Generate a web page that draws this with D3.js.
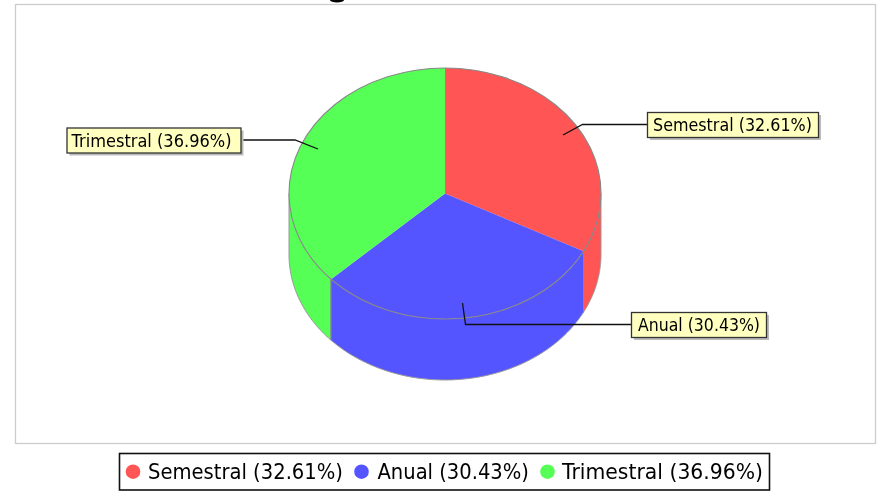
<!DOCTYPE html>
<html><head><meta charset="utf-8">
<script src="https://cdn.jsdelivr.net/npm/d3@7"></script>
<style>html,body{margin:0;padding:0;background:#fff}svg{display:block;filter:blur(0.5px)}text{font-family:"DejaVu Sans",sans-serif;fill:#000}</style>
</head><body><div id="c"></div>
<script>
const categories=["Semestral","Anual","Trimestral"];
const values=[32.61,30.43,36.96];
const colors=["#ff5555","#5555ff","#55ff55"];
const labelBoxes=[[647,112,171,25,6,159],[631,312,135,25,7,122],[66.5,127.5,174,25,5,160]];
const w=881,h=492,cx=445,cy=193.5,rx=156,ry=125.5,depth=61;
const svg=d3.select("#c").append("svg").attr("width",w).attr("height",h);
svg.append("rect").attr("x",15.5).attr("y",4.5).attr("width",860).attr("height",439).attr("fill","#fff").attr("stroke","#ccc").attr("stroke-width",1.3);
// the reference's title is cropped away: only this speck of a descender is left
svg.append("ellipse").attr("cx",337).attr("cy",0).attr("rx",7).attr("ry",2.6).attr("fill","#000");
const arcs=d3.pie().sort(null).value(d=>d)(values);
const X=a=>cx+rx*Math.sin(a),Y=a=>cy-ry*Math.cos(a);
const line=d3.line();
const fa=Math.PI/2,ta=3*Math.PI/2;
const order=[2,0,1];
order.forEach(i=>{
 const a0=Math.max(arcs[i].startAngle,fa),a1=Math.min(arcs[i].endAngle,ta);
 if(a1<=a0)return;
 const s=d3.range(0,61).map(k=>a0+(a1-a0)*k/60);
 const pts=s.map(a=>[X(a),Y(a)]).concat(s.slice().reverse().map(a=>[X(a),Y(a)+depth]));
 svg.append("path").attr("d",line(pts)+"Z").attr("fill",colors[i]);
 svg.append("path").attr("d",line(s.map(a=>[X(a),Y(a)+depth]))).attr("fill","none").attr("stroke","#999");
 [a0,a1].forEach(a=>{if(a>fa+.001&&a<ta-.001)svg.append("line").attr("x1",X(a)).attr("x2",X(a)).attr("y1",Y(a)).attr("y2",Y(a)+depth).attr("stroke","#888")});
});
[fa,ta].forEach(a=>svg.append("line").attr("x1",X(a)).attr("x2",X(a)).attr("y1",Y(a)).attr("y2",Y(a)+depth).attr("stroke","#999"));
const g=svg.append("g").attr("transform",`translate(${cx},${cy}) scale(1,${ry/rx})`);
const arc=d3.arc().innerRadius(0).outerRadius(rx);
g.selectAll("path.s").data(arcs).join("path").attr("class","s").attr("d",arc).attr("fill",(d,i)=>colors[i]);
svg.append("ellipse").attr("cx",cx).attr("cy",cy).attr("rx",rx).attr("ry",ry).attr("fill","none").attr("stroke","#888").attr("stroke-width",1.1);
const leaders=[[[563,135],[582.5,124.5],[647,124.5]],[[462.5,303],[465.5,324.5],[631,324.5]],[[318,149],[295,140],[241,140]]];
leaders.forEach(l=>svg.append("path").attr("d",line(l)).attr("fill","none").attr("stroke","#111").attr("stroke-width",1.3));
categories.forEach((c,i)=>{
 const [x,y,bw,bh,tx,tw]=labelBoxes[i];
 svg.append("rect").attr("x",x+3).attr("y",y+3).attr("width",bw).attr("height",bh).attr("fill","#bbb");
 svg.append("rect").attr("x",x+.5).attr("y",y+.5).attr("width",bw).attr("height",bh).attr("fill","#ffffc0").attr("stroke","#333").attr("stroke-width",1.3);
 svg.append("text").attr("x",x+tx).attr("y",y+19).attr("font-size",17).attr("textLength",tw).attr("lengthAdjust","spacingAndGlyphs").text(`${c} (${values[i].toFixed(2)}%)`);
});
svg.append("rect").attr("x",119.5).attr("y",453.5).attr("width",650).attr("height",36.5).attr("fill","#fff").attr("stroke","#111").attr("stroke-width",1.6);
const legend=[[133,148,195],[361.5,377.5,151.5],[547.5,562,201]];
categories.forEach((c,i)=>{
 const [dx,tx,tw]=legend[i];
 svg.append("circle").attr("cx",dx).attr("cy",471.7).attr("r",7.3).attr("fill",colors[i]);
 svg.append("text").attr("x",tx).attr("y",479).attr("font-size",21).attr("textLength",tw).attr("lengthAdjust","spacingAndGlyphs").text(`${c} (${values[i].toFixed(2)}%)`);
});
</script></body></html>
